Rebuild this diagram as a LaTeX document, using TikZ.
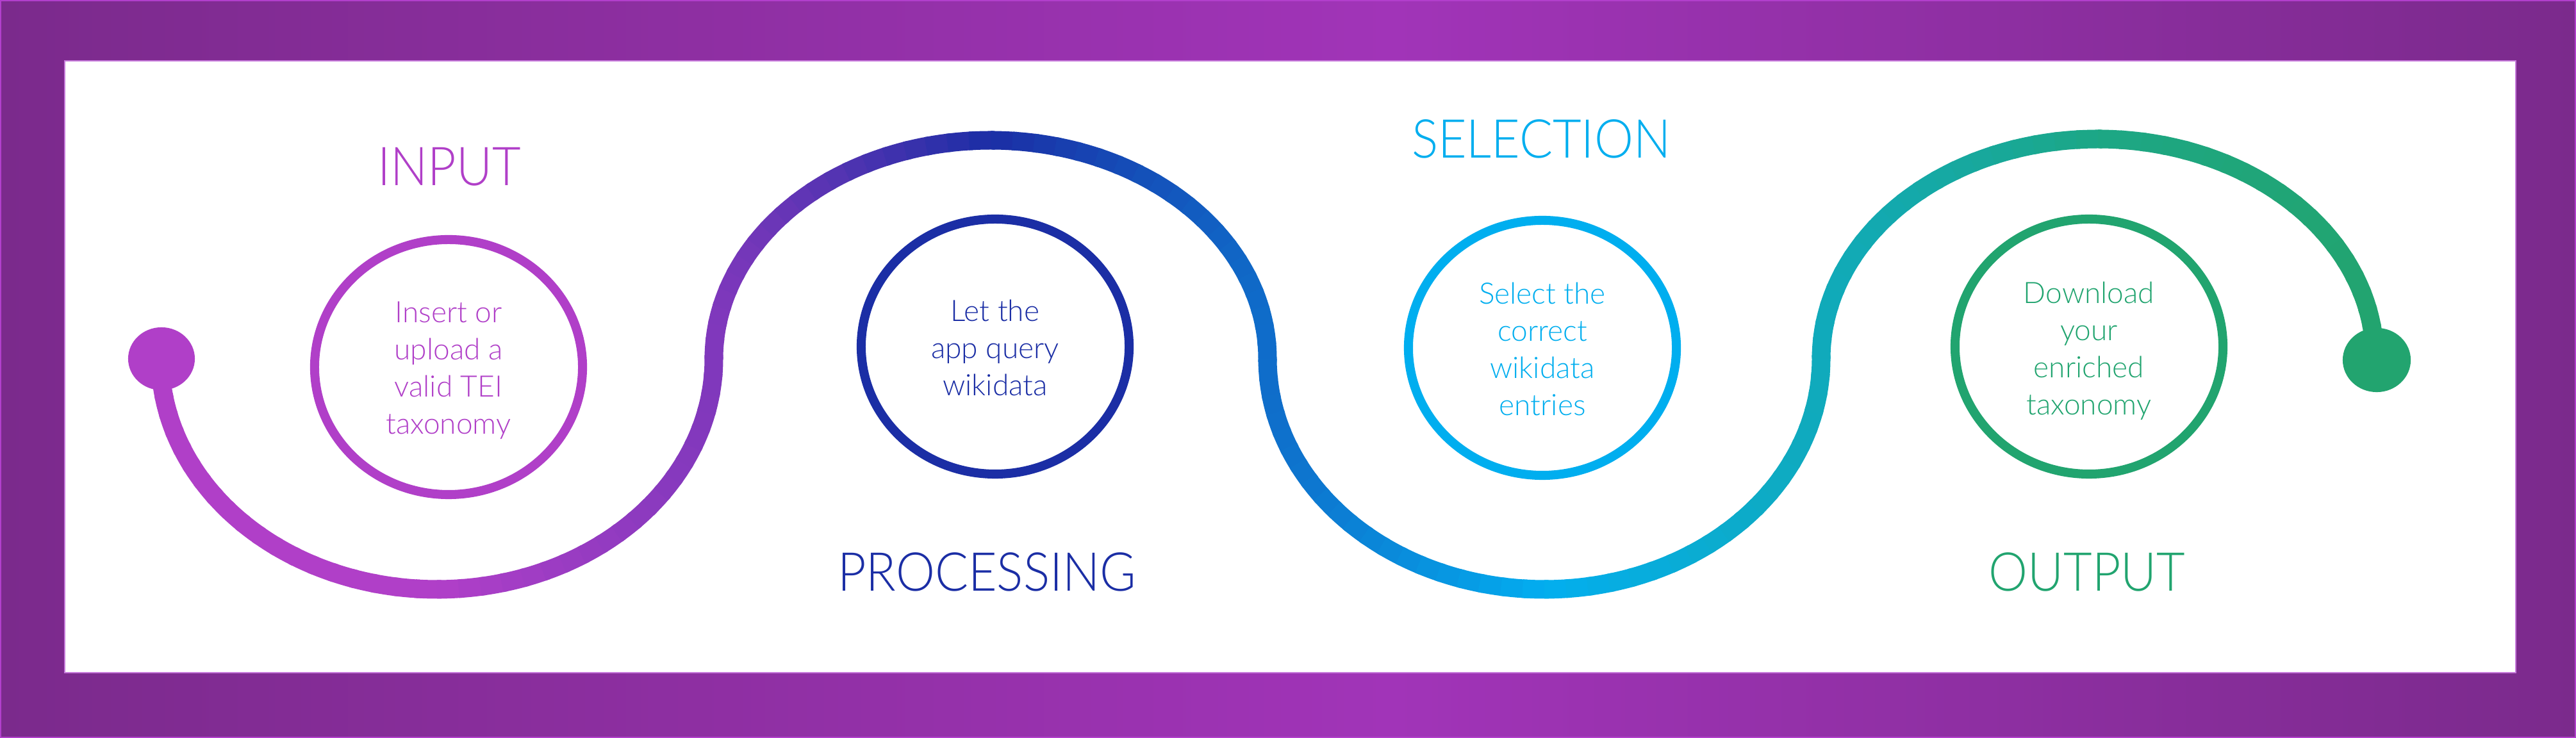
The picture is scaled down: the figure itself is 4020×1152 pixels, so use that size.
\documentclass[tikz,border=0pt]{standalone}
\usepackage{fontspec}
\setmainfont{Lato Light}
\usetikzlibrary{shapes.geometric}
\definecolor{cin}{HTML}{B03FC8}
\definecolor{cpr}{HTML}{1B2EA5}
\definecolor{cse}{HTML}{00AEEF}
\definecolor{cou}{HTML}{21A46F}
\definecolor{fra}{HTML}{7B2A8C}
\definecolor{frb}{HTML}{A134B8}
\definecolor{fredge}{HTML}{B23FCC}
\definecolor{inedge}{HTML}{C77BDB}
\definecolor{sA}{HTML}{B03FC8}
\definecolor{sB}{HTML}{B03FC8}
\definecolor{sC}{HTML}{8038BC}
\definecolor{sD}{HTML}{1B2EA5}
\definecolor{sE}{HTML}{0F6DCA}
\definecolor{sF}{HTML}{03AEEF}
\definecolor{sG}{HTML}{10AABB}
\definecolor{sH}{HTML}{1DA785}
\definecolor{sI}{HTML}{22A46F}
\pgfdeclarehorizontalshading{frameshade}{100bp}{color(0bp)=(fra); color(25bp)=(fra); color(52bp)=(frb); color(75bp)=(fra); color(100bp)=(fra)}
% one quarter of an ellipse, drawn in small coloured pieces
% #1 cx, #2 cy, #3 rx, #4 ry (px), #5 start angle, #6 end angle, #7 colour at start, #8 colour at end
\newcommand{\snakeq}[8]{%
  \foreach \i in {0,...,19}{%
    \pgfmathsetmacro{\ta}{#5+(#6-#5)*\i/20}%
    \pgfmathsetmacro{\tb}{#5+(#6-#5)*(\i+1.2)/20}%
    \pgfmathsetmacro{\tm}{#5+(#6-#5)*(\i+0.5)/20}%
    \pgfmathtruncatemacro{\pc}{100*(cos(\tm)-cos(#5))/(cos(#6)-cos(#5))}%
    \colorlet{segc}{#8!\pc!#7}%
    \draw[snakeline, draw=segc] ({#1+#3*cos(\ta)},{#2+#4*sin(\ta)})
      arc[start angle=\ta, end angle=\tb, x radius=#3*0.284528pt, y radius=#4*0.284528pt];
  }%
}
\tikzset{
  snakeline/.style={line width=8.25pt, line cap=butt},
  ring/.style={ellipse, draw=#1, line width=4pt, inner sep=0pt, minimum width=118.9pt, minimum height=113.2pt},
  dot/.style={ellipse, fill=#1, inner sep=0pt, minimum width=29.6pt, minimum height=27.9pt},
  body/.style={text=#1, align=center, inner sep=0pt, anchor=north, font=\fontsize{13.1pt}{16.5pt}\selectfont},
  head/.style={text=#1, inner sep=0pt, anchor=base, transform shape, xscale=0.92, font=\fontsize{23.8pt}{28pt}\selectfont}
}
\begin{document}
\begin{tikzpicture}[x=0.01cm, y=0.01cm]
\useasboundingbox (0,0) rectangle (4020,1152);
% frame
\shade[shading=frameshade] (0,0) rectangle (4020,1152);
\draw[fredge, line width=0.6pt] (1,1) rectangle (4019,1151);
\fill[white] (101,102) rectangle (3926,1057);
\draw[inedge, line width=0.5pt] (101,102) rectangle (3926,1057);
% snake path
\snakeq{682}{592}{432}{360}{180}{270}{sA}{sB}
\snakeq{682}{592}{432}{360}{270}{360}{sB}{sC}
\snakeq{1546}{592}{432}{341}{180}{90}{sC}{sD}
\snakeq{1546}{592}{432}{341}{90}{0}{sD}{sE}
\snakeq{2410}{592}{432}{360}{180}{270}{sE}{sF}
\snakeq{2410}{592}{432}{360}{270}{360}{sF}{sG}
\snakeq{3274}{592}{432}{343}{180}{90}{sG}{sH}
\snakeq{3274}{592}{432}{343}{90}{0}{sH}{sI}
% end dots
\node[dot=cin] (d1) at (252,592) {};
\node[dot=sI, minimum width=30.2pt, minimum height=28.5pt] (d2) at (3709,590) {};
% rings
\node[ring=cin] (r1) at (700,579) {};
\node[ring=cpr] (r2) at (1553,611) {};
\node[ring=cse] (r3) at (2407,609) {};
\node[ring=cou] (r4) at (3260,611) {};
% ring texts
\node[body=cin] (t1) at (700,682) {Insert or\\upload a\\valid TEI\\taxonomy};
\node[body=cpr] (t2) at (1553,685) {Let the\\app query\\wikidata};
\node[body=cse] (t3) at (2407,712) {Select the\\correct\\wikidata\\entries};
\node[body=cou] (t4) at (3260,713) {Download\\your\\enriched\\taxonomy};
% headings
\node[head=cin] (h1) at (701,862) {INPUT};
\node[head=cpr] (h2) at (1540,229) {PROCESSING};
\node[head=cse] (h3) at (2405,905) {SELECTION};
\node[head=cou] (h4) at (3257,229) {OUTPUT};
\end{tikzpicture}
\end{document}
